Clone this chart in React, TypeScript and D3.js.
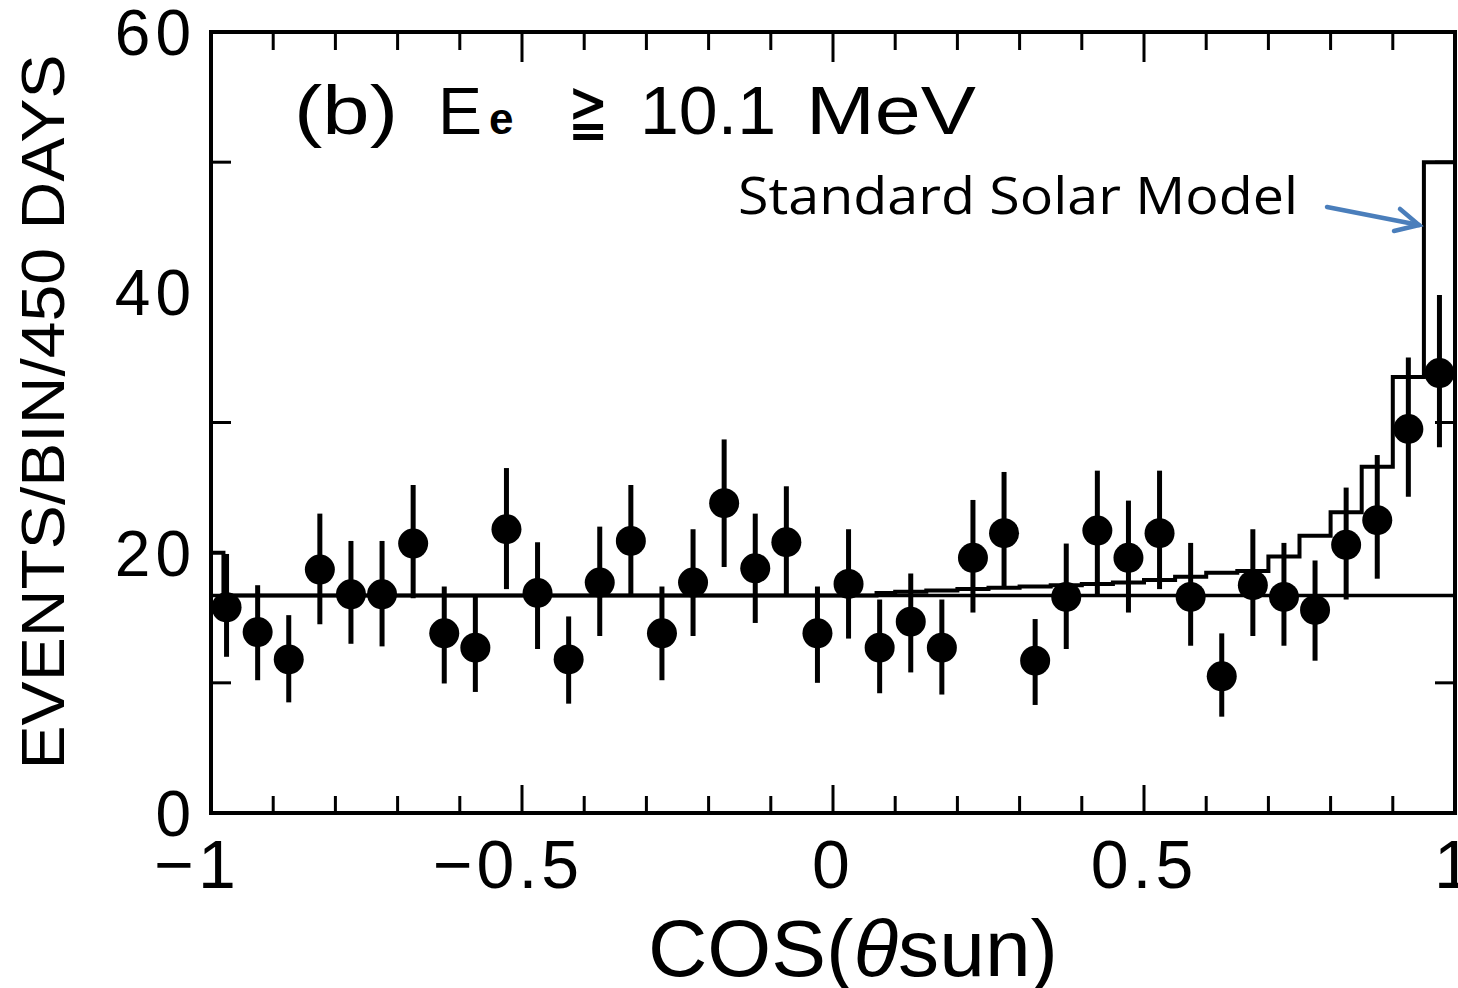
import React from "react";
import * as d3 from "d3";

// ---------- data ----------
const binCenters: number[] = [
  -0.975, -0.925, -0.875, -0.825, -0.775, -0.725, -0.675, -0.625, -0.575, -0.525,
  -0.475, -0.425, -0.375, -0.325, -0.275, -0.225, -0.175, -0.125, -0.075, -0.025,
  0.025, 0.075, 0.125, 0.175, 0.225, 0.275, 0.325, 0.375, 0.425, 0.475,
  0.525, 0.575, 0.625, 0.675, 0.725, 0.775, 0.825, 0.875, 0.925, 0.975,
];
const events: number[] = [
  15.8, 13.9, 11.8, 18.7, 16.8, 16.8, 20.7, 13.8, 12.7, 21.8,
  16.9, 11.8, 17.7, 20.9, 13.8, 17.7, 23.8, 18.8, 20.8, 13.8,
  17.6, 12.7, 14.7, 12.7, 19.6, 21.5, 11.7, 16.6, 21.7, 19.6,
  21.5, 16.6, 10.5, 17.5, 16.6, 15.6, 20.6, 22.5, 29.5, 33.8,
];
const errLow: number[] = [
  3.8, 3.7, 3.3, 4.2, 3.8, 4.0, 4.2, 3.85, 3.4, 4.6,
  4.3, 3.4, 4.1, 4.3, 3.6, 4.1, 4.9, 4.2, 4.2, 3.8,
  4.2, 3.5, 3.9, 3.6, 4.2, 4.1, 3.4, 4.0, 5.1, 4.2,
  4.3, 3.75, 3.1, 3.9, 3.75, 3.9, 4.2, 4.5, 5.2, 5.7,
];
const errHigh: number[] = [
  4.1, 3.6, 3.4, 4.3, 4.1, 4.1, 4.5, 3.6, 3.9, 4.7,
  3.9, 3.3, 4.3, 4.3, 3.6, 4.1, 4.9, 4.2, 4.3, 3.6,
  4.2, 3.7, 3.7, 3.7, 4.45, 4.7, 3.2, 4.1, 4.6, 4.4,
  4.8, 4.15, 3.3, 4.3, 4.15, 3.8, 4.4, 5.0, 5.5, 6.0,
];
const backgroundLevel = 16.7;
const ssmEdges: number[] = [
  -1, -0.98, 0.07, 0.1, 0.15, 0.2, 0.25, 0.3, 0.35, 0.4, 0.45, 0.5,
  0.55, 0.6, 0.65, 0.7, 0.75, 0.8, 0.85, 0.9, 0.95, 1.0,
];
const ssmValues: number[] = [
  20, 16.7, 16.9, 17.0, 17.1, 17.2, 17.3, 17.4, 17.5, 17.6, 17.7,
  17.9, 18.15, 18.45, 18.6, 19.7, 21.3, 23.1, 26.6, 33.5, 50.0,
];
const xMajorTicks: number[] = [-1, -0.5, 0, 0.5, 1];
const xMajorLabels: string[] = ["\u22121", "\u22120.5", "0", "0.5", "1"];
const xMinorTicks: number[] = [-0.9, -0.8, -0.7, -0.6, -0.4, -0.3, -0.2, -0.1, 0.1, 0.2, 0.3, 0.4, 0.6, 0.7, 0.8, 0.9];
const yMajorTicks: number[] = [0, 20, 40, 60];
const yMinorTicks: number[] = [10, 30, 50];
const yTitle = "EVENTS/BIN/450 DAYS";
const annotation = "Standard Solar Model";

// ---------- layout ----------
const W = 1458;
const H = 988;
const x = d3.scaleLinear().domain([-1, 1]).range([211, 1455]);
const y = d3.scaleLinear().domain([0, 60]).range([813, 32]);
const FONT = "'Liberation Sans', Arial, Helvetica, sans-serif";

export default function App() {
  const stepPts: [number, number][] = [];
  ssmValues.forEach((v, i) => {
    stepPts.push([ssmEdges[i], v]);
    stepPts.push([ssmEdges[i + 1], v]);
  });
  const stepLine = d3
    .line<[number, number]>()
    .x((d) => x(d[0]))
    .y((d) => y(d[1]));
  const ssmPath = stepLine(stepPts) || "";

  const [x0, x1] = x.range();
  const [yb, yt] = y.range();

  const arrowStart: [number, number] = [1327, 207];
  const arrowEnd: [number, number] = [1419, 225];

  return (
    <div style={{ position: "absolute", left: 0, top: 0 }}>
      <svg width={W} height={H} style={{ display: "block", background: "#fff" }}>
        {/* background flat line */}
        <line x1={x0} x2={x1} y1={y(backgroundLevel)} y2={y(backgroundLevel)} stroke="#000" strokeWidth={3.5} />
        {/* SSM histogram */}
        <path d={ssmPath} fill="none" stroke="#000" strokeWidth={4} strokeLinejoin="miter" />

        {/* error bars and points */}
        {binCenters.map((c, i) => (
          <g key={i}>
            <line
              x1={x(c)}
              x2={x(c)}
              y1={y(events[i] + errHigh[i])}
              y2={y(events[i] - errLow[i])}
              stroke="#000"
              strokeWidth={5}
            />
            <circle cx={x(c)} cy={y(events[i])} r={15} fill="#000" />
          </g>
        ))}

        {/* frame */}
        <rect x={x0} y={yt} width={x1 - x0} height={yb - yt} fill="none" stroke="#000" strokeWidth={4} />

        {/* x ticks */}
        {xMajorTicks.map((t) => (
          <g key={"xM" + t}>
            <line x1={x(t)} x2={x(t)} y1={yb} y2={yb - 28} stroke="#000" strokeWidth={3} />
            <line x1={x(t)} x2={x(t)} y1={yt} y2={yt + 30} stroke="#000" strokeWidth={3} />
          </g>
        ))}
        {xMinorTicks.map((t) => (
          <g key={"xm" + t}>
            <line x1={x(t)} x2={x(t)} y1={yb} y2={yb - 17} stroke="#000" strokeWidth={3} />
            <line x1={x(t)} x2={x(t)} y1={yt} y2={yt + 18} stroke="#000" strokeWidth={3} />
          </g>
        ))}
        {/* y ticks */}
        {yMinorTicks.map((t) => (
          <g key={"ym" + t}>
            <line x1={x0} x2={x0 + 20} y1={y(t)} y2={y(t)} stroke="#000" strokeWidth={3} />
            <line x1={x1} x2={x1 - 20} y1={y(t)} y2={y(t)} stroke="#000" strokeWidth={3} />
          </g>
        ))}

        {/* y tick labels */}
        {yMajorTicks.map((t) => (
          <text
            key={"yl" + t}
            x={196}
            y={y(t) + 23}
            textAnchor="end"
            fontFamily={FONT}
            fontSize={64}
            letterSpacing={5}
            fill="#000"
          >
            {String(t)}
          </text>
        ))}

        {/* x tick labels */}
        {xMajorTicks.map((t, i) => (
          <text
            key={"xl" + t}
            x={x(t) + (t < 0 ? -14 : 0)}
            y={888}
            textAnchor="middle"
            fontFamily={FONT}
            fontSize={68}
            letterSpacing={4}
            fill="#000"
          >
            {xMajorLabels[i]}
          </text>
        ))}

        {/* y title */}
        <text
          transform="translate(64,412) rotate(-90)"
          textAnchor="middle"
          fontFamily={FONT}
          fontSize={62}
          textLength={715}
          lengthAdjust="spacingAndGlyphs"
          fill="#000"
        >
          {yTitle}
        </text>

        {/* x title */}
        <text x={648} y={976} fontFamily={FONT} fontSize={80} fill="#000" textLength={410} lengthAdjust="spacingAndGlyphs">
          COS(<tspan fontStyle="italic">θ</tspan>sun)
        </text>

        {/* panel label */}
        <g fontFamily={FONT} fill="#000">
          <text x={294} y={134} fontSize={68} textLength={104} lengthAdjust="spacingAndGlyphs">(b)</text>
          <text x={438} y={134} fontSize={66}>E</text>
          <text x={489} y={134} fontSize={44} fontWeight="bold">e</text>
          <text x={568} y={134} fontSize={72} fontFamily="'DejaVu Sans', sans-serif" textLength={40} lengthAdjust="spacingAndGlyphs">≧</text>
          <text x={640} y={134} fontSize={68} textLength={136} lengthAdjust="spacingAndGlyphs">10.1</text>
          <text x={806} y={134} fontSize={68} textLength={170} lengthAdjust="spacingAndGlyphs">MeV</text>
        </g>

        {/* annotation */}
        <text
          x={738}
          y={214}
          fontFamily="'Open Sans', 'Noto Sans', sans-serif"
          fontSize={52}
          textLength={560}
          lengthAdjust="spacingAndGlyphs"
          fill="#000"
        >
          {annotation}
        </text>
        <g stroke="#4a7ebb" strokeWidth={4.5} strokeLinecap="round" fill="none">
          <line x1={arrowStart[0]} y1={arrowStart[1]} x2={arrowEnd[0]} y2={arrowEnd[1]} />
          <polyline points={`1400,209 ${arrowEnd[0]},${arrowEnd[1]} 1394,231`} strokeLinejoin="miter" />
        </g>
      </svg>
    </div>
  );
}
